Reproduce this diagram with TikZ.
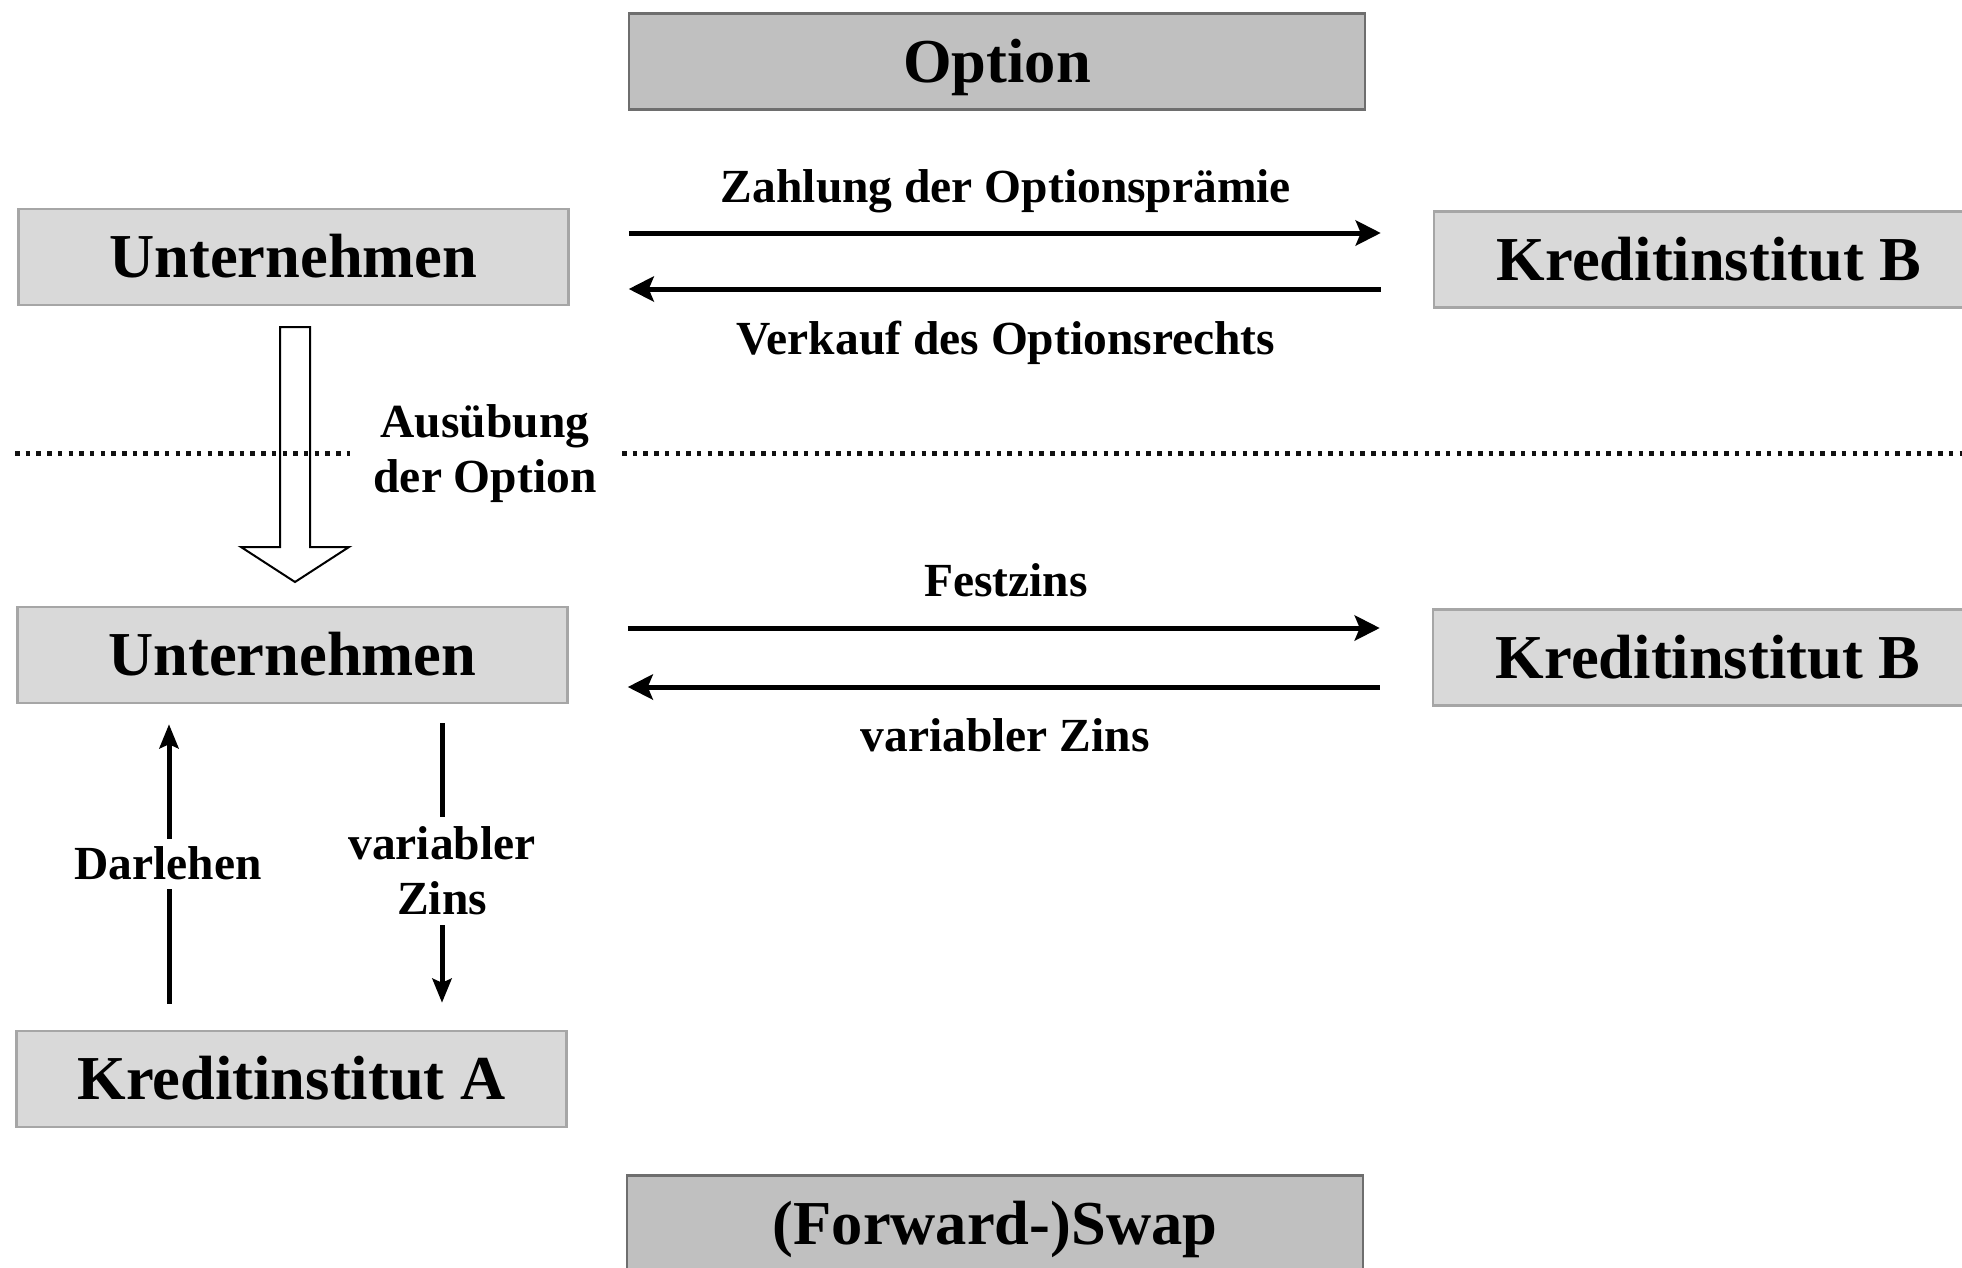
\documentclass[tikz,border=0pt]{standalone}
\usepackage{fontspec}
\setmainfont{Liberation Serif}
\usetikzlibrary{arrows.meta,calc}
\definecolor{boxfill}{HTML}{D9D9D9}
\definecolor{boxline}{HTML}{A6A6A6}
\definecolor{kindfill}{HTML}{C0C0C0}
\definecolor{kindline}{HTML}{6E6E6E}
\definecolor{dotcol}{HTML}{111111}
\begin{document}
\begin{tikzpicture}[x=1pt,y=-1pt,
  big/.style={font=\bfseries\fontsize{62.5}{70}\selectfont},
  small/.style={font=\bfseries\fontsize{47.5}{55}\selectfont},
  party/.style={big, draw=boxline, fill=boxfill, line width=2.5pt, minimum width=550pt, minimum height=96pt, inner sep=0pt, text height=41.4pt, text depth=0pt},
  kind/.style={party, draw=kindline, fill=kindfill, minimum width=736pt},
  flow/.style={line width=5pt, -{Stealth[length=25pt,width=25pt,inset=5pt]}},
  vflow/.style={line width=5pt, -{Stealth[length=24pt,width=19pt,inset=4pt]}},
  lbl/.style={small, inner sep=0pt, text height=31.4pt, text depth=0pt},
  twolbl/.style={small, align=center, inner sep=0pt},
  dotline/.style={line width=5pt, dotcol, dash pattern=on 4.5pt off 6.2pt},
  blockarrow/.style={draw=black, fill=white, line width=2pt, line join=miter},
]
\useasboundingbox (0,0) rectangle (1962,1267);

% boxes
\node[kind]  (opt)  at (997,61.5)   {Option};
\node[party] (u1)   at (293.5,257)  {Unternehmen};
\node[party] (kb1)  at (1709,259.5) {Kreditinstitut B};
\node[party] (u2)   at (292.5,655)  {Unternehmen};
\node[party] (kb2)  at (1708,657.5) {Kreditinstitut B};
\node[party] (ka)   at (291.5,1079) {Kreditinstitut A};
\node[kind]  (swap) at (995,1223.5) {(Forward-)Swap};

% levels
\coordinate (yA) at (0,233);
\coordinate (yB) at (0,289);
\coordinate (yC) at (0,628);
\coordinate (yD) at (0,687);
\coordinate (xD) at (169,0);
\coordinate (xV) at (442,0);

% option flows
\draw[flow, shorten <=59pt, shorten >=52pt] (u1.east |- yA) -- (kb1.west |- yA);
\draw[flow, shorten <=52pt, shorten >=59pt] (kb1.west |- yB) -- (u1.east |- yB);
\node[lbl] (zahl) at (1006,187) {Zahlung der Optionsprämie};
\node[lbl] (verk) at (1006,339) {Verkauf des Optionsrechts};

% swap flows
\draw[flow, shorten <=59pt, shorten >=52pt] (u2.east |- yC) -- (kb2.west |- yC);
\draw[flow, shorten <=52pt, shorten >=59pt] (kb2.west |- yD) -- (u2.east |- yD);
\node[lbl] (fest) at (1006,581) {Festzins};
\node[lbl] (varz) at (1005,736) {variabler Zins};

% exercise block arrow
\draw[blockarrow] (280,327) -- (310,327) -- (310,547) -- (349,547) -- (295,582) -- (241,547) -- (280,547) -- cycle;
\draw[dotline] (15,453) -- (350,453);
\draw[dotline] (622,453) -- (1962,453);
\node[twolbl] (ausu) at (485,454) {Ausübung\\der Option};

% credit A flows
\draw[vflow, shorten <=26pt, shorten >=20pt] (ka.north -| xD) -- (u2.south -| xD);
\node[lbl, fill=white, inner ysep=9pt, inner xsep=2pt] (darl) at (168,864) {Darlehen};
\draw[vflow, shorten <=19pt, shorten >=27pt] (u2.south -| xV) -- (ka.north -| xV);
\node[twolbl, fill=white, inner ysep=10pt, inner xsep=2pt] (varzA) at (442,871) {variabler\\Zins};
\end{tikzpicture}
\end{document}
